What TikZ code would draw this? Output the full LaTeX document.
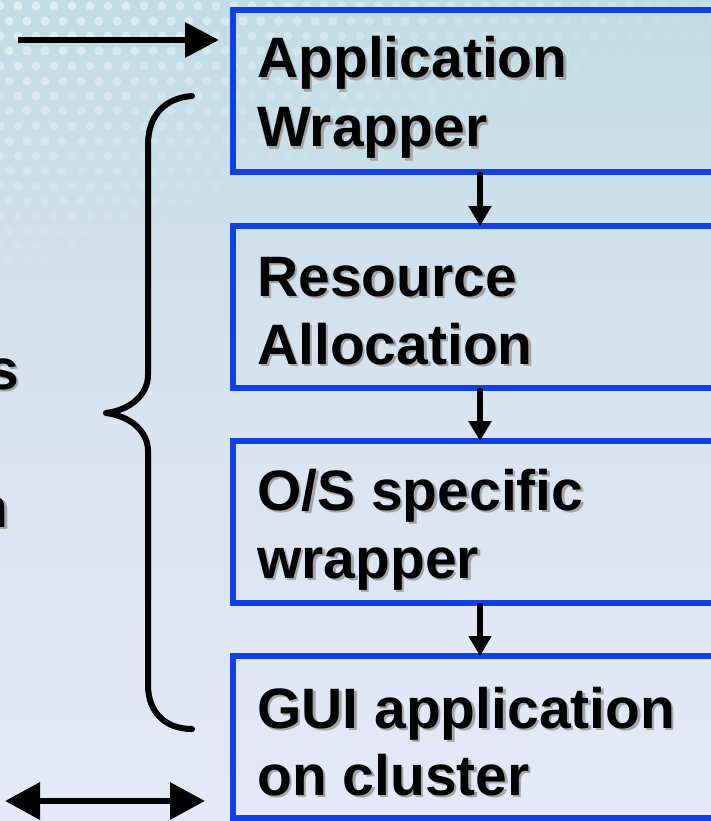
\documentclass[tikz,border=0pt]{standalone}
\usepackage{fontspec}
\setmainfont{Liberation Sans}
\usetikzlibrary{arrows.meta}
\definecolor{boxblue}{RGB}{16,64,230}
\definecolor{bgtop}{RGB}{192,220,228}
\definecolor{bgmid}{RGB}{216,228,240}
\definecolor{bgbot}{RGB}{230,232,248}
\definecolor{shadowgray}{RGB}{165,165,165}
\tikzset{
 box/.style={draw=boxblue, line width=6pt, minimum width=494pt, minimum height=162pt, outer sep=0pt, inner sep=0pt},
 lbl/.style={font=\fontsize{57}{67}\selectfont\bfseries, anchor=base west, inner sep=0pt, text=black},
 lblshadow/.style={lbl, text=shadowgray},
 flow/.style={line width=6.5pt, -{Triangle[length=20pt,width=22pt]}},
 bigarrow/.style={line width=6.5pt, -{Triangle[length=34pt,width=34pt]}},
 dblarrow/.style={line width=6.5pt, {Triangle[length=35pt,width=36pt]}-{Triangle[length=35pt,width=36pt]}},
 brace/.style={line width=6pt, line cap=round, line join=round},
}
\newcommand\shtxt[4][]{%
 \node[lblshadow,#1] at ([shift={(2.5pt,-2.5pt)}]#3) {#4};
 \node[lbl,#1] (#2) at (#3) {#4};}
\begin{document}
\begin{tikzpicture}[x=1pt,y=-1pt]
\useasboundingbox (0,0) rectangle (711,821);
\clip (0,0) rectangle (711,821);
% background
\shade[top color=bgtop, bottom color=bgbot, middle color=bgmid] (0,0) rectangle (711,821);
\foreach \r in {0,...,18}{
  \foreach \c in {0,...,40}{
    \pgfmathsetmacro\yy{6+\r*15}
    \pgfmathsetmacro\xx{\c*18+mod(\r,2)*9}
    \pgfmathsetmacro\op{max(0,0.55*(1-(\yy+0.35*\xx)/300))}
    \fill[white, opacity=\op] (\xx,\yy) circle (4.5pt);
  }
}
% boxes
\node[box] (b1) at (480,91) {};
\node[box] (b2) at (480,307) {};
\node[box] (b3) at (480,522) {};
\node[box] (b4) at (480,737) {};
% labels
\shtxt{t1a}{257,78}{Application}
\shtxt{t1b}{257,147}{Wrapper}
\shtxt{t2a}{257,296}{Resource}
\shtxt{t2b}{257,364}{Allocation}
\shtxt{t3a}{257,510}{O/S specific}
\shtxt{t3b}{257,578}{wrapper}
\shtxt{t4a}{257,728}{GUI application}
\shtxt{t4b}{257,795}{on cluster}
% partial texts at the left edge
\shtxt[anchor=base east]{ls}{19,389}{s}
\shtxt[anchor=base east]{ln}{9,527}{n}
% flow arrows
\draw[flow] (b1.south) -- (b2.north);
\draw[flow] (b2.south) -- (b3.north);
\draw[flow] (b3.south) -- (b4.north);
% top input arrow
\coordinate (inA) at (18,40);
\coordinate (inB) at (219,40);
\draw[bigarrow] (inA) -- (inB);
% bottom double arrow
\coordinate (dA) at (5,801);
\coordinate (dB) at (205,801);
\draw[dblarrow] (dA) -- (dB);
% brace
\draw[brace] (192,96) .. controls (165,98) and (148,115) .. (148,145) -- (148,375)
  .. controls (148,395) and (130,410) .. (106,413)
  .. controls (130,416) and (148,431) .. (148,451) -- (148,685)
  .. controls (148,712) and (165,729) .. (192,729);
\end{tikzpicture}
\end{document}
